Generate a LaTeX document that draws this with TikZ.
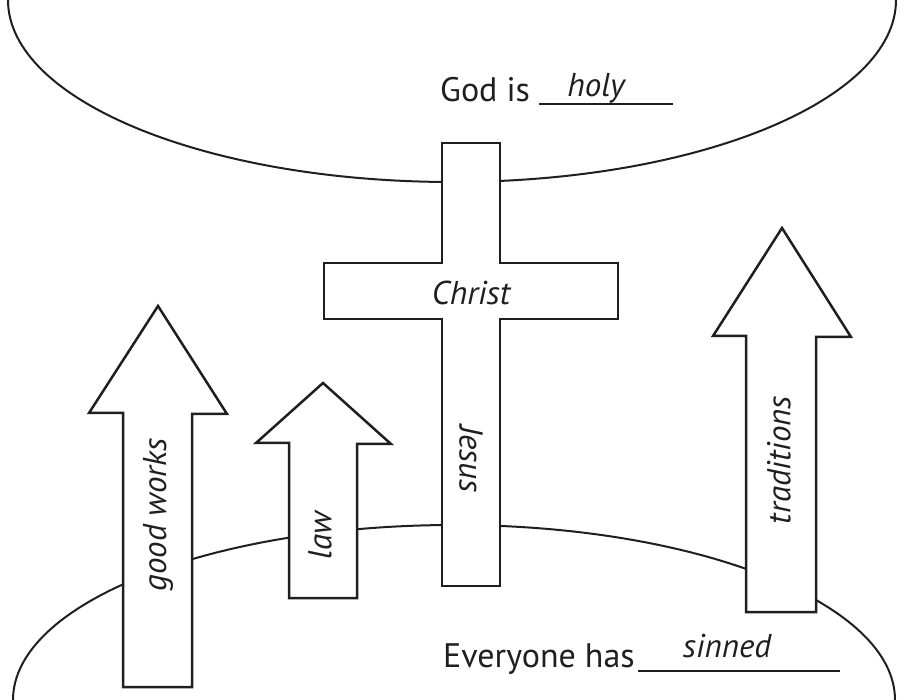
\documentclass[tikz,border=0pt]{standalone}
\usepackage{fontspec}
\setmainfont{PT Sans}
\begin{document}
\begin{tikzpicture}[x=1pt,y=-1pt,
  outline/.style={draw=black!88, line width=2.5pt, line join=miter},
  solidshape/.style={outline, fill=white},
  rim/.style={draw=black!88, line width=2pt},
  rule/.style={draw=black!88, line width=2pt},
  bigtxt/.style={font=\fontsize{34}{40}\selectfont, inner sep=0pt, text=black!88},
  lbl/.style={font=\fontsize{33}{40}\selectfont\itshape, inner sep=0pt, text=black!88}]
\useasboundingbox (0,0) rectangle (908,700);
\clip (0,0) rectangle (908,700);
% heaven and earth
\draw[rim] (452,0) ellipse [x radius=444, y radius=182];
\draw[rim] (454,700) ellipse [x radius=441, y radius=175];
% cross
\draw[solidshape] (442,143) -- (500,143) -- (500,263) -- (618,263) -- (618,319) -- (500,319)
  -- (500,586) -- (442,586) -- (442,319) -- (324,319) -- (324,263) -- (442,263) -- cycle;
% arrows
\draw[solidshape] (158,306) -- (227,414) -- (192,414) -- (192,687) -- (123,687) -- (123,413) -- (89,413) -- cycle;
\draw[solidshape] (323,383) -- (391,444) -- (357,444) -- (357,598) -- (289,598) -- (289,443) -- (256,443) -- cycle;
\draw[solidshape] (782,228) -- (851,337) -- (816,337) -- (816,612) -- (746,612) -- (746,336) -- (713,336) -- cycle;
% labels
\node[lbl] (christ) at (471,293) {Christ};
\node[lbl, rotate=-90] (jesus) at (471,459) {Jesus};
\node[lbl, rotate=90] (goodworks) at (158,515) {good works};
\node[lbl, rotate=90] (law) at (320,536) {law};
\node[lbl, rotate=90] (traditions) at (779,460) {traditions};
% sentences
\node[bigtxt, anchor=base west] (god) at (440,102) {God is};
\coordinate (hA) at (539,104);
\coordinate (hB) at (673,104);
\draw[rule] (hA) -- (hB);
\node[lbl, anchor=base] (holy) at (596,97) {holy};
\node[bigtxt, anchor=base west] (every) at (443,667) {Everyone has};
\coordinate (sA) at (638,671);
\coordinate (sB) at (840,671);
\draw[rule] (sA) -- (sB);
\node[lbl, anchor=base] (sinned) at (727,657) {sinned};
\end{tikzpicture}
\end{document}
